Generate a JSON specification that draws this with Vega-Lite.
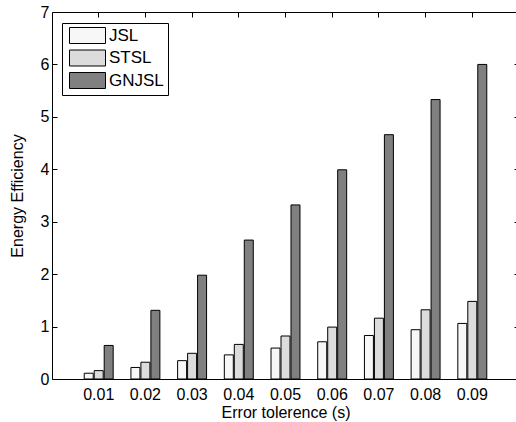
{
  "$schema": "https://vega.github.io/schema/vega-lite/v6.json",
  "autosize": "none",
  "width": 467,
  "height": 367,
  "padding": {"left": 52, "top": 12, "right": 0, "bottom": 43},
  "background": "white",
  "config": {
    "font": "Liberation Sans",
    "view": {"stroke": null},
    "axis": {"grid": false, "domainColor": "black", "tickColor": "black", "labelColor": "black", "titleColor": "black", "labelFontSize": 16, "titleFontSize": 16, "titleFontWeight": "normal", "domainWidth": 1, "tickWidth": 1},
    "legend": {"labelFontSize": 17, "labelColor": "black"}
  },
  "data": {"values": [
    {"tol": "0.01", "method": "JSL", "value": 0.11},
    {"tol": "0.01", "method": "STSL", "value": 0.16},
    {"tol": "0.01", "method": "GNJSL", "value": 0.64},
    {"tol": "0.02", "method": "JSL", "value": 0.22},
    {"tol": "0.02", "method": "STSL", "value": 0.32},
    {"tol": "0.02", "method": "GNJSL", "value": 1.31},
    {"tol": "0.03", "method": "JSL", "value": 0.35},
    {"tol": "0.03", "method": "STSL", "value": 0.49},
    {"tol": "0.03", "method": "GNJSL", "value": 1.98},
    {"tol": "0.04", "method": "JSL", "value": 0.46},
    {"tol": "0.04", "method": "STSL", "value": 0.66},
    {"tol": "0.04", "method": "GNJSL", "value": 2.65},
    {"tol": "0.05", "method": "JSL", "value": 0.59},
    {"tol": "0.05", "method": "STSL", "value": 0.82},
    {"tol": "0.05", "method": "GNJSL", "value": 3.32},
    {"tol": "0.06", "method": "JSL", "value": 0.71},
    {"tol": "0.06", "method": "STSL", "value": 0.99},
    {"tol": "0.06", "method": "GNJSL", "value": 3.99},
    {"tol": "0.07", "method": "JSL", "value": 0.83},
    {"tol": "0.07", "method": "STSL", "value": 1.16},
    {"tol": "0.07", "method": "GNJSL", "value": 4.66},
    {"tol": "0.08", "method": "JSL", "value": 0.94},
    {"tol": "0.08", "method": "STSL", "value": 1.32},
    {"tol": "0.08", "method": "GNJSL", "value": 5.33},
    {"tol": "0.09", "method": "JSL", "value": 1.06},
    {"tol": "0.09", "method": "STSL", "value": 1.48},
    {"tol": "0.09", "method": "GNJSL", "value": 6.0}
  ]},
  "layer": [
    {
      "mark": {"type": "bar", "stroke": "black", "strokeWidth": 1},
      "encoding": {
        "x": {"field": "tol", "type": "nominal", "sort": null,
              "scale": {"paddingInner": 0.38, "paddingOuter": 0.69},
              "axis": {"orient": "bottom", "title": "Error tolerence (s)", "labelAngle": 0, "tickSize": -5, "labelPadding": 12, "titlePadding": 2}},
        "xOffset": {"field": "method", "type": "nominal", "sort": ["JSL", "STSL", "GNJSL"], "scale": {"paddingInner": 0.1, "paddingOuter": 0}},
        "y": {"field": "value", "type": "quantitative",
              "scale": {"domain": [0, 7], "nice": false, "zero": true},
              "axis": {"orient": "left", "title": "Energy Efficiency", "values": [0, 1, 2, 3, 4, 5, 6, 7], "tickSize": -5, "labelPadding": 8, "titlePadding": 15}},
        "fill": {"field": "method", "type": "nominal", "sort": ["JSL", "STSL", "GNJSL"],
                 "scale": {"domain": ["JSL", "STSL", "GNJSL"], "range": ["#f7f7f7", "#dcdcdc", "#808080"]},
                 "legend": {"title": null, "orient": "none", "legendX": 10, "legendY": 11,
                            "fillColor": "white", "strokeColor": "black", "padding": 4,
                            "symbolType": "M-2.25,-1H2.25V1H-2.25Z", "symbolSize": 256,
                            "symbolStrokeColor": "black", "symbolStrokeWidth": 1, "symbolOpacity": 1,
                            "symbolOffset": 13, "labelOffset": 13, "rowPadding": 1.5}}
      }
    },
    {
      "mark": {"type": "bar", "opacity": 0},
      "encoding": {
        "x": {"field": "tol", "type": "nominal", "sort": null,
              "axis": {"orient": "top", "title": null, "labels": false, "tickSize": -5}},
        "xOffset": {"field": "method", "type": "nominal", "sort": ["JSL", "STSL", "GNJSL"]},
        "y": {"field": "value", "type": "quantitative",
              "axis": {"orient": "right", "title": null, "labels": false, "values": [0, 1, 2, 3, 4, 5, 6, 7], "tickSize": -5}}
      }
    }
  ],
  "resolve": {"axis": {"x": "independent", "y": "independent"}}
}
